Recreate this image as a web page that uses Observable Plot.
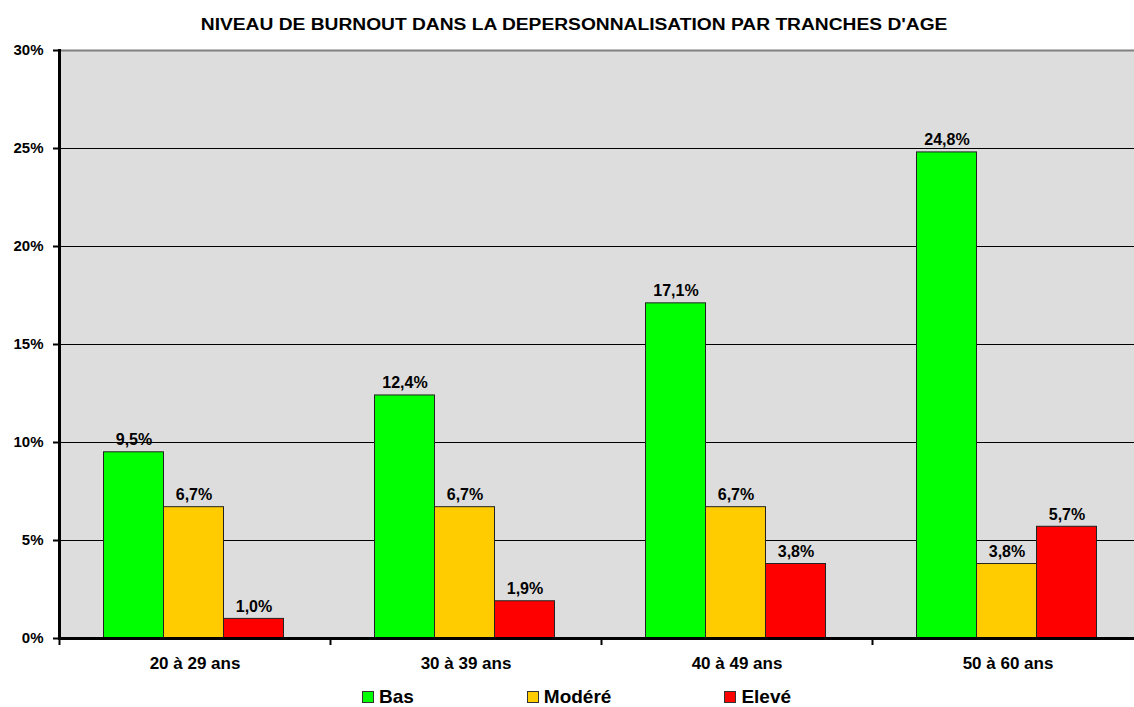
<!DOCTYPE html>
<html>
<head>
<meta charset="utf-8">
<script src="https://cdn.jsdelivr.net/npm/d3@7"></script>
<script src="https://cdn.jsdelivr.net/npm/@observablehq/plot@0.6"></script>
<style>
  html, body { margin: 0; padding: 0; background: #fff; overflow: hidden; width: 1134px; height: 707px; }
  body { font-family: "Liberation Sans", Arial, sans-serif; color: #000; }
  #title { height: 40px; box-sizing: border-box; padding-top: 16px; text-align: center; font-weight: bold; font-size: 16px; line-height: 17px; white-space: nowrap; }
  #title span { display: inline-block; transform: scaleX(1.2); transform-origin: center; margin-left: 15px; }
  #chart { height: 638px; width: 1143px; }
  #legend { display: flex; justify-content: center; align-items: center; gap: 113px; padding-left: 19px; padding-top: 9px; font-weight: bold; font-size: 19px; line-height: 20px; }
  .item { display: flex; align-items: center; }
  .sw { width: 10px; height: 10px; border: 1px solid #333; margin-right: 5px; }
</style>
</head>
<body>
<div id="title"><span>NIVEAU DE BURNOUT DANS LA DEPERSONNALISATION PAR TRANCHES D'AGE</span></div>
<div id="chart"></div>
<div id="legend"></div>
<script>
const groups = ["20 à 29 ans", "30 à 39 ans", "40 à 49 ans", "50 à 60 ans"];
const series = ["Bas", "Modéré", "Elevé"];
const bas = [9.5, 12.4, 17.1, 24.8];
const modere = [6.7, 6.7, 6.7, 3.8];
const eleve = [1.0, 1.9, 3.8, 5.7];
const colors = ["#00ff00", "#ffcc00", "#ff0000"];
const yTicks = [0, 5, 10, 15, 20, 25, 30];

const values = [bas, modere, eleve];
const data = [];
series.forEach((s, si) => groups.forEach((g, gi) => data.push({group: g, series: s, si, value: values[si][gi]})));

const W = 1143, ML = 59, MR = 0;
const bw = (W - ML - MR) / groups.length;
const barW = 60;
const off0 = (bw - barW * series.length) / 2 - 1;
const fmt = v => v.toFixed(1).replace(".", ",") + "%";

const marks = [
  Plot.frame({fill: "#dddddd", stroke: "none"}),
  Plot.ruleY(yTicks.filter(t => t > 0 && t < 30), {stroke: "#000", strokeWidth: 1}),
  Plot.ruleY([30], {stroke: "#808080", strokeWidth: 2}),
];
series.forEach((s, si) => {
  const d = data.filter(r => r.si === si);
  const insetLeft = off0 + si * barW;
  marks.push(Plot.barY(d, {x: "group", y: "value", fill: colors[si], stroke: "#222", strokeWidth: 1,
    insetLeft, insetRight: bw - insetLeft - barW}));
  marks.push(Plot.text(d, {x: "group", y: "value", text: r => fmt(r.value), dx: insetLeft + barW / 2 - bw / 2, dy: -7,
    lineAnchor: "bottom", fontSize: 16, fontWeight: "bold", fill: "#000"}));
});
marks.push(
  Plot.ruleY([0], {stroke: "#000", strokeWidth: 3}),
  Plot.frame({anchor: "left", stroke: "#000", strokeWidth: 3}),
  Plot.axisY({ticks: yTicks, tickFormat: d => d + "%", tickSize: 6, tickPadding: 10, strokeWidth: 2, fontSize: 15, fontWeight: "bold", color: "#000"}),
  Plot.axisX({tickSize: 7, tickFormat: () => "", dx: -bw / 2, strokeWidth: 2, color: "#000"}),
  Plot.axisX({tickSize: 0, tickPadding: 18, fontSize: 17, fontWeight: "bold", color: "#000"})
);

const chart = Plot.plot({
  width: W, height: 638,
  marginLeft: ML, marginRight: MR, marginTop: 10, marginBottom: 40,
  style: {fontFamily: "Liberation Sans, Arial, sans-serif", background: "transparent", overflow: "visible"},
  x: {domain: groups, padding: 0, label: null},
  y: {domain: [0, 30], label: null},
  marks
});
document.getElementById("chart").appendChild(chart);

const legend = document.getElementById("legend");
series.forEach((s, si) => {
  const it = document.createElement("div");
  it.className = "item";
  const sw = document.createElement("div");
  sw.className = "sw";
  sw.style.background = colors[si];
  const t = document.createElement("span");
  t.textContent = s;
  it.appendChild(sw); it.appendChild(t);
  legend.appendChild(it);
});
</script>
</body>
</html>
